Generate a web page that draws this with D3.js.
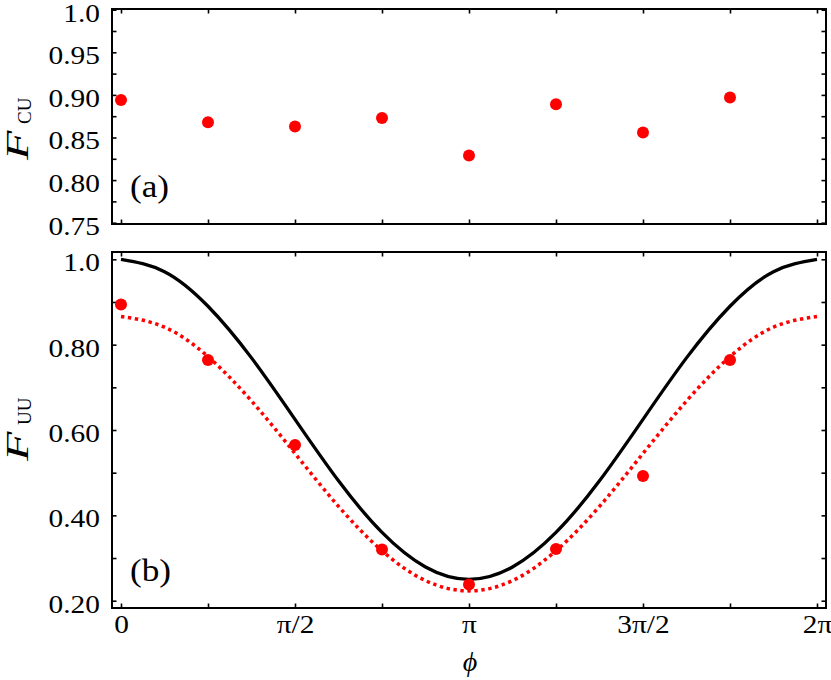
<!DOCTYPE html>
<html><head><meta charset="utf-8">
<script src="https://cdn.jsdelivr.net/npm/d3@7"></script>
<style>
body{margin:0;background:#fff;}
svg{display:block;}
text{font-family:"Liberation Serif","Times New Roman",serif;fill:#000;}
</style></head>
<body>
<svg id="chart" width="831" height="680"></svg>
<script>
const PI = Math.PI;
// measured phases (multiples of pi/4)
const phiPoints = [0, PI/4, PI/2, 3*PI/4, PI, 5*PI/4, 3*PI/2, 7*PI/4];
const fcuValues = [0.894, 0.868, 0.863, 0.873, 0.829, 0.889, 0.856, 0.897];
const fuuValues = [0.894, 0.764, 0.565, 0.320, 0.238, 0.321, 0.492, 0.764];
// theory curves, read at multiples of pi/8
const phiCurve = [0, PI/8, 2*PI/8, 3*PI/8, 4*PI/8, 5*PI/8, 6*PI/8, 7*PI/8, PI,
                  9*PI/8, 10*PI/8, 11*PI/8, 12*PI/8, 13*PI/8, 14*PI/8, 15*PI/8, 2*PI];
const idealCurve = [1.000, 0.971, 0.890, 0.769, 0.625, 0.481, 0.360, 0.279, 0.250,
                    0.279, 0.360, 0.481, 0.625, 0.769, 0.890, 0.971, 1.000];
const fitCurve = [0.866, 0.841, 0.772, 0.668, 0.545, 0.421, 0.317, 0.247, 0.223,
                  0.247, 0.317, 0.421, 0.545, 0.668, 0.772, 0.841, 0.866];
// tick definitions
const xMajor = [0, PI/2, PI, 3*PI/2, 2*PI];
const xMajorLabels = ["0", "π/2", "π", "3π/2", "2π"];
const xAllTicks = [0, PI/4, PI/2, 3*PI/4, PI, 5*PI/4, 3*PI/2, 7*PI/4, 2*PI];
const yTopMajor = [0.75, 0.80, 0.85, 0.90, 0.95, 1.0];
const yTopLabels = ["0.75", "0.80", "0.85", "0.90", "0.95", "1.0"];
const yTopAll = [0.75, 0.775, 0.80, 0.825, 0.85, 0.875, 0.90, 0.925, 0.95, 0.975, 1.0];
const yBotMajor = [0.2, 0.4, 0.6, 0.8, 1.0];
const yBotLabels = ["0.20", "0.40", "0.60", "0.80", "1.0"];
const yBotAll = [0.2, 0.3, 0.4, 0.5, 0.6, 0.7, 0.8, 0.9, 1.0];

const FONT = "'Liberation Serif', 'Times New Roman', serif";
const svg = d3.select("#chart");
const L = 112, R = 826;
const top1 = 9, bot1 = 224, top2 = 252, bot2 = 608;
const TICK = 4.5;
const FS = 26;
const SX = 1.13; // horizontal stretch of the reference lettering

const x = d3.scaleLinear().domain([0, 2*PI]).range([121, 817]);
const yTop = d3.scaleLinear().domain([0.75, 1.0]).range([222.7, 9.7]);
const yBot = d3.scaleLinear().domain([0.2, 1.0]).range([600.7, 259.3]);

function styleAxis(g){
  g.select(".domain").remove();
  g.attr("font-family", null);
  g.selectAll(".tick line").attr("stroke", "#000").attr("stroke-width", 1.6);
  g.selectAll(".tick text").attr("font-size", FS).attr("fill", "#000").style("font-family", FONT);
}

function panel(y, yt, yb, yAll, yMajor, yLabels, showX){
  svg.append("g").attr("transform", `translate(${L},0)`)
    .call(d3.axisLeft(y).tickValues(yMajor).tickSize(0).tickPadding(12)
      .tickFormat((d,i)=>yLabels[i]))
    .call(styleAxis)
    .call(g=>g.selectAll(".tick text").attr("dy","0.44em")
      .attr("x", -12/SX).attr("transform", `scale(${SX},1)`));
  svg.append("g").attr("transform", `translate(${L},0)`)
    .call(d3.axisLeft(y).tickValues(yAll).tickSize(-TICK).tickFormat(""))
    .call(styleAxis);
  svg.append("g").attr("transform", `translate(${R},0)`)
    .call(d3.axisRight(y).tickValues(yAll).tickSize(-TICK).tickFormat(""))
    .call(styleAxis);
  svg.append("g").attr("transform", `translate(0,${yt})`)
    .call(d3.axisTop(x).tickValues(xAllTicks).tickSize(-TICK).tickFormat(""))
    .call(styleAxis);
  svg.append("g").attr("transform", `translate(0,${yb})`)
    .call(d3.axisBottom(x).tickValues(xAllTicks).tickSize(-TICK).tickFormat(""))
    .call(styleAxis);
  if (showX){
    svg.append("g").attr("transform", `translate(0,${yb})`)
      .call(d3.axisBottom(x).tickValues(xMajor).tickSize(0).tickPadding(7)
        .tickFormat((d,i)=>xMajorLabels[i]))
      .call(styleAxis)
      .call(g=>g.selectAll(".tick text").attr("transform", `scale(${SX},1)`));
  }
  svg.append("rect").attr("x", L).attr("y", yt).attr("width", R-L).attr("height", yb-yt)
    .attr("fill", "none").attr("stroke", "#000").attr("stroke-width", 2);
}

panel(yTop, top1, bot1, yTopAll, yTopMajor, yTopLabels, false);
panel(yBot, top2, bot2, yBotAll, yBotMajor, yBotLabels, true);

// curves (bottom panel)
const curveLine = d3.line().x((d,i)=>x(phiCurve[i])).y(d=>yBot(d)).curve(d3.curveNatural);
svg.append("path").datum(idealCurve).attr("d", curveLine)
  .attr("fill","none").attr("stroke","#000").attr("stroke-width",3.3);
svg.append("path").datum(fitCurve).attr("d", curveLine)
  .attr("fill","none").attr("stroke","#ff0000").attr("stroke-width",3.5)
  .attr("stroke-dasharray","3.4,3.6");

// points
const R_PT = 6;
svg.append("g").selectAll("circle").data(fcuValues).join("circle")
  .attr("cx",(d,i)=>x(phiPoints[i])).attr("cy",d=>yTop(d)).attr("r",R_PT).attr("fill","#ff0000");
svg.append("g").selectAll("circle").data(fuuValues).join("circle")
  .attr("cx",(d,i)=>x(phiPoints[i])).attr("cy",d=>yBot(d)).attr("r",R_PT).attr("fill","#ff0000");

// panel tags
svg.append("text").attr("transform","translate(130,197) scale(1.1,1)").attr("font-size",32)
  .style("font-family", FONT).text("(a)");
svg.append("text").attr("transform","translate(130,581) scale(1.1,1)").attr("font-size",32)
  .style("font-family", FONT).text("(b)");

// y labels (rotated)
function yLabel(bx, yStart, ySub, sub){
  svg.append("text").attr("transform",`translate(${bx},${yStart}) rotate(-90) scale(1.55,1)`)
    .style("font-family", FONT).attr("font-style","italic").attr("font-size",31).text("F");
  svg.append("text").attr("transform",`translate(${bx+3},${ySub}) rotate(-90)`)
    .style("font-family", FONT).attr("font-size",19).text(sub);
}
yLabel(28, 160, 124, "CU");
yLabel(28, 461, 425, "UU");

// x label
svg.append("text").attr("x",470).attr("y",671).attr("text-anchor","middle")
  .style("font-family", FONT).attr("font-style","italic").attr("font-size",28).text("ϕ");
</script>
</body></html>
